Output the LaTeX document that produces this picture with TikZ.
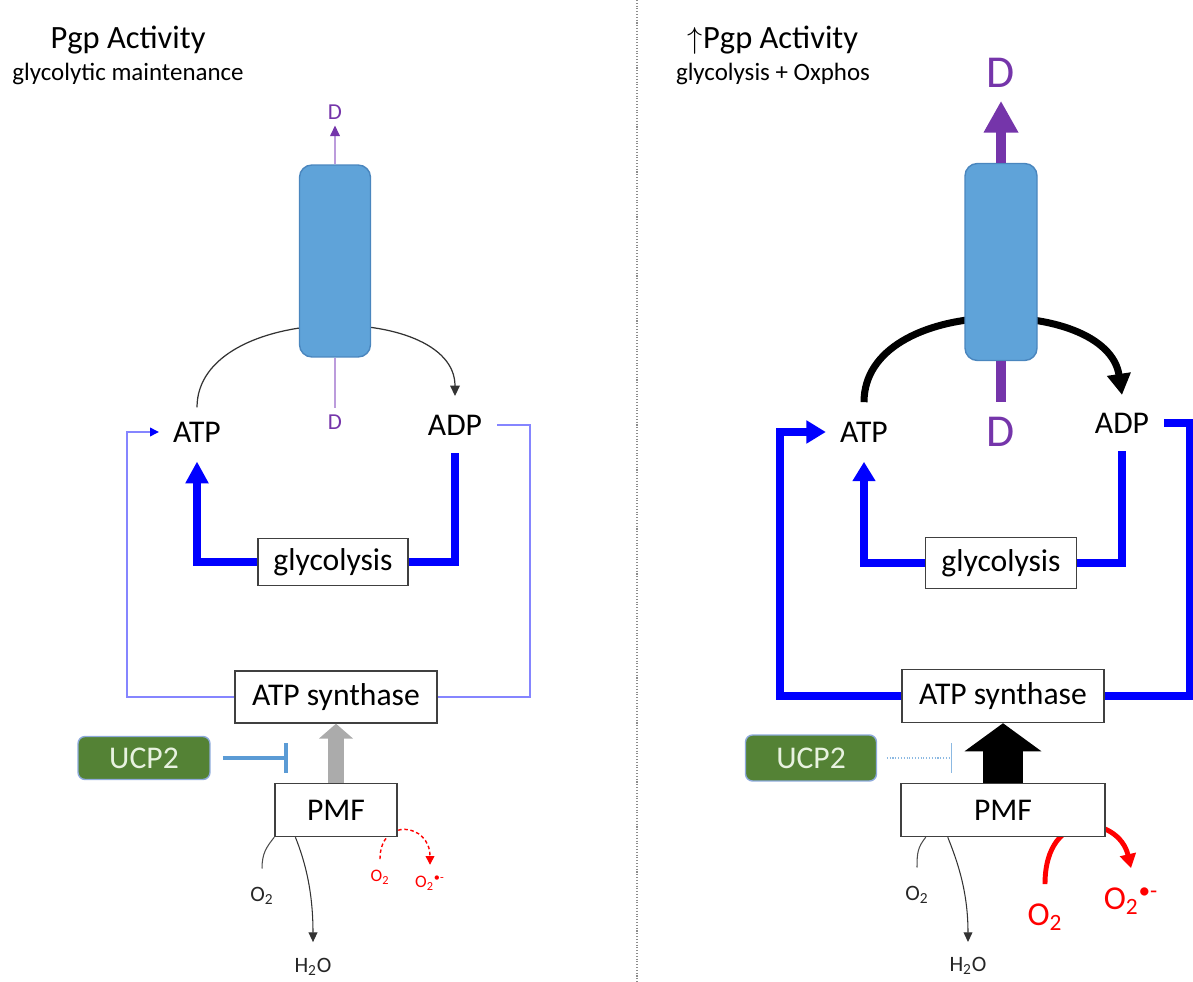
\documentclass[tikz,border=0pt]{standalone}
\usepackage{fontspec}
\setmainfont{Carlito}
\usepackage{xcolor}
\usepackage{tikz}
\usetikzlibrary{positioning,arrows.meta}

\definecolor{pgpblue}{HTML}{5FA3D9}
\definecolor{pgpedge}{HTML}{4A86BE}
\definecolor{dpurple}{HTML}{7535AA}
\definecolor{lpurple}{HTML}{BC9CDC}
\definecolor{ucpgreen}{HTML}{548235}
\definecolor{ucpedge}{HTML}{8EAADB}
\definecolor{ucptext}{HTML}{E8F2E0}
\definecolor{inhblue}{HTML}{5B9BD5}
\definecolor{thinblue}{HTML}{8585FF}

\begin{document}
\begin{tikzpicture}[x=0.02cm, y=-0.02cm]
            \tikzstyle{title} = [inner sep=0pt, font=\fontsize{18.5}{22}\selectfont]
            \tikzstyle{subtitle} = [inner sep=0pt, font=\fontsize{14.2}{17}\selectfont]
            \tikzstyle{lbl} = [inner sep=0pt, font=\fontsize{18}{21}\selectfont]
            \tikzstyle{box} = [draw=black!75, line width=0.8pt, fill=white, inner sep=0pt, font=\fontsize{18}{21}\selectfont]
            \tikzstyle{pgp} = [draw=pgpedge, line width=0.8pt, fill=pgpblue, rounded corners=7pt]
            \tikzstyle{ucp} = [draw=ucpedge, line width=0.8pt, fill=ucpgreen, rounded corners=4pt, text=ucptext, font=\fontsize{18}{21}\selectfont]
            \tikzstyle{drug} = [text=dpurple, font=\fontsize{13}{15}\selectfont]
            \tikzstyle{bigdrug} = [text=dpurple, font=\fontsize{26}{30}\selectfont]
            \tikzstyle{gas} = [inner sep=0pt, text=black!85, font=\fontsize{12.5}{15}\selectfont]
            \tikzstyle{ros} = [inner sep=0pt, text=red, font=\fontsize{10}{12}\selectfont]
            \tikzstyle{bigros} = [inner sep=0pt, text=red, font=\fontsize{19}{23}\selectfont]
            \tikzstyle{flow} = [line width=4.5pt, draw=blue]

            \useasboundingbox (0,0) rectangle (1193,982);

            % divider between the two panels
            \coordinate (div0) at (637,0);
            \coordinate (div1) at (637,982);
            \draw[black!45, densely dotted, line width=0.6pt] (div0) -- (div1);

            % left panel
            \node[title] (T1) at (128,40) {Pgp Activity};
            \node[subtitle] (U1) at (128,74) {glycolytic maintenance};

            \node[lbl] (atp1) at (197,432) {ATP};
            \node[lbl] (adp1) at (455,425) {ADP};
            \draw[line width=0.7pt, black!80, -{Triangle[length=6pt,width=5.5pt]}] ([yshift=8pt]atp1.north) .. controls +(0,-105) and +(0,-95) .. ([yshift=10.5pt]adp1.north);

            \node[pgp, minimum width=1.42cm, minimum height=3.84cm] (cyl1) at (335,261) {};
            \node[drug] (dt1) at (335,112) {D};
            \node[drug] (db1) at (335,422) {D};
            \draw[lpurple, line width=0.8pt, -{Triangle[length=6pt,width=5.5pt,color=dpurple]}] (cyl1.north) -- (dt1.south);
            \draw[lpurple, line width=0.8pt] (cyl1.south) -- (db1.north);

            \node[box, minimum width=3cm, minimum height=0.94cm] (gly1) at (333,562) {glycolysis};
            \draw[flow, -{Triangle[length=12.5pt,width=12.5pt]}] (gly1.west) -| ([yshift=-10.8pt]atp1.south);
            \draw[flow] (gly1.east) -| ([yshift=-10pt]adp1.south);

            \node[box, minimum width=4.04cm, minimum height=1.04cm] (syn1) at (336,697) {ATP synthase};
            \coordinate (lc1) at (127,432);
            \coordinate (rc1) at (530,697);
            \draw[thinblue, line width=0.7pt, -{Triangle[length=5pt,width=5pt,color=blue]}] (syn1.west) -| (lc1) -- ([xshift=-8pt]atp1.west);
            \draw[thinblue, line width=0.7pt] ([xshift=8.5pt]adp1.east) -| (rc1) -- (syn1.east);

            \node[ucp, minimum width=2.64cm, minimum height=0.86cm] (ucp1) at (144,758) {UCP2};
            \coordinate (ib1) at (288,758);
            \draw[inhblue, line width=2.3pt, -{Bar[width=17pt]}] ([xshift=7pt]ucp1.east) -- (ib1);

            \node[ros] (ro1) at (380,877) {O\textsubscript{2}};
            \node[ros] (rs1) at (430,883) {O\textsubscript{2}\textsuperscript{\textbullet-}};
            \draw[red, line width=0.8pt, dash pattern=on 2pt off 1.5pt, -{Triangle[length=5pt,width=5pt]}] ([yshift=6pt]ro1.north) .. controls +(0,-42) and +(0,-42) .. ([yshift=6pt]rs1.north);

            \node[box, minimum width=2.44cm, minimum height=1.06cm] (pmf1) at (336,810) {PMF};
            \draw[black!33, line width=9pt, -{Triangle[length=8.5pt,width=19pt]}] (pmf1.north) -- (syn1.south);

            \node[gas] (o2g1) at (262,896) {O\textsubscript{2}};
            \node[gas] (h2o1) at (313,967) {H\textsubscript{2}O};
            \draw[black!70, line width=0.6pt] (pmf1.south west) .. controls +(-8,10) and +(0,-15) .. ([yshift=10.5pt]o2g1.north);
            \draw[black!80, line width=0.6pt, -{Triangle[length=5.5pt,width=5pt]}] ([xshift=12pt]pmf1.south west) .. controls +(10,25) and +(0,-50) .. ([yshift=9pt]h2o1.north);

            % right panel
            \node[title] (T2) at (773,40) {$\uparrow$Pgp Activity};
            \node[subtitle] (U2) at (773,74) {glycolysis + Oxphos};

            \node[lbl] (atp2) at (864,432) {ATP};
            \node[lbl] (adp2) at (1122,423) {ADP};
            \draw[line width=4pt, black, -{Triangle[length=12pt,width=13pt]}] ([yshift=11pt]atp2.north) .. controls +(0,-108) and +(-15,-100) .. ([yshift=10pt]adp2.north);

            \node[pgp, minimum width=1.44cm, minimum height=3.94cm] (cyl2) at (1001,262) {};
            \node[bigdrug] (dt2) at (1001,73) {D};
            \node[bigdrug] (db2) at (1001,432) {D};
            \draw[dpurple, line width=5.7pt, -{Triangle[length=18pt,width=18.5pt]}] (cyl2.north) -- ([yshift=-4pt]dt2.south);
            \draw[dpurple, line width=5.7pt] (cyl2.south) -- ([yshift=5pt]db2.north);

            \node[box, minimum width=3.02cm, minimum height=1.02cm] (gly2) at (1001,563) {glycolysis};
            \draw[flow, -{Triangle[length=11pt,width=12.5pt]}] (gly2.west) -| ([yshift=-11pt]atp2.south);
            \draw[flow] (gly2.east) -| ([yshift=-10pt]adp2.south);

            \node[box, minimum width=4.04cm, minimum height=1.06cm] (syn2) at (1003,696) {ATP synthase};
            \coordinate (lc2) at (780,432);
            \coordinate (rc2) at (1189,696);
            \draw[flow, line width=4pt, -{Triangle[length=11pt,width=12.5pt]}] (syn2.west) -| (lc2) -- ([xshift=-8pt]atp2.west);
            \draw[flow, line width=4pt] ([xshift=8.5pt]adp2.east) -| (rc2) -- (syn2.east);

            \node[ucp, minimum width=2.62cm, minimum height=0.92cm] (ucp2) at (811,758) {UCP2};
            \coordinate (ib2) at (952,758);
            \draw[inhblue!70, line width=0.6pt, densely dotted, -{Bar[width=17pt]}] ([xshift=5.5pt]ucp2.east) -- (ib2);

            \node[bigros] (ro2) at (1045,917) {O\textsubscript{2}};
            \node[bigros] (rs2) at (1131,901) {O\textsubscript{2}\textsuperscript{\textbullet-}};
            \draw[red, line width=2.8pt, -{Triangle[length=8pt,width=9pt]}] ([yshift=11pt]ro2.north) .. controls +(0,-78) and +(-12,-52) .. ([yshift=11pt]rs2.north);

            \node[box, minimum width=4.08cm, minimum height=1.06cm] (pmf2) at (1003,810) {PMF};
            \draw[black, line width=22.7pt, -{Triangle[length=16pt,width=43pt]}] (pmf2.north) -- (syn2.south);

            \node[gas] (o2g2) at (917,895) {O\textsubscript{2}};
            \node[gas] (h2o2) at (968,966) {H\textsubscript{2}O};
            \draw[black!70, line width=0.6pt] ([xshift=14.5pt]pmf2.south west) .. controls +(-8,10) and +(0,-15) .. ([yshift=10.5pt]o2g2.north);
            \draw[black!80, line width=0.6pt, -{Triangle[length=5.5pt,width=5pt]}] ([xshift=27pt]pmf2.south west) .. controls +(10,25) and +(0,-50) .. ([yshift=8.5pt]h2o2.north);

        \end{tikzpicture}
\end{document}
